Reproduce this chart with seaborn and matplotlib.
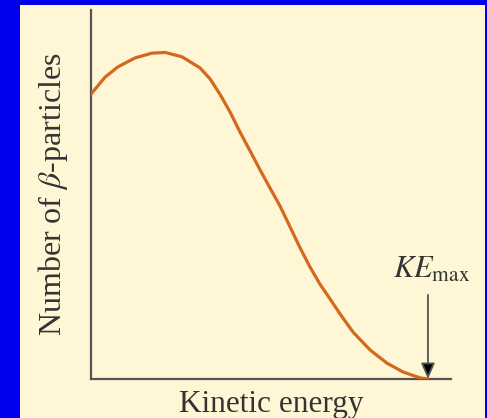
import matplotlib
matplotlib.use("Agg")
import matplotlib.pyplot as plt
import seaborn as sns
import pandas as pd
from matplotlib.patches import Rectangle

# Beta-decay energy spectrum (arbitrary units, 0-100 on both axes)
energy = [0.0, 3.9, 7.5, 12.2, 16.9, 20.6, 25.3, 30.3, 33.1, 35.8, 38.6, 41.4,
          44.2, 47.0, 49.7, 52.5, 55.3, 58.1, 60.8, 63.6, 66.4, 69.2, 72.8,
          77.5, 82.2, 86.7, 91.4, 93.6]
counts = [77.2, 81.8, 84.6, 87.0, 88.3, 88.5, 87.3, 84.3, 81.3, 77.2, 72.4, 66.9,
          61.8, 56.6, 51.8, 46.9, 41.2, 35.5, 30.4, 25.7, 21.7, 17.6, 12.7,
          7.9, 4.3, 1.9, 0.3, 0.0]
ke_max = 93.6
ke_arrow_top = 22.8

xlabel = "Kinetic energy"
ylabel = r"Number of $\beta$-particles"
ke_label = r"$\mathit{KE}_{\mathrm{max}}$"

sns.set_theme(style="white")
plt.rcParams["font.family"] = ["Liberation Serif", "DejaVu Serif"]
plt.rcParams["mathtext.fontset"] = "stix"

W, H = 487, 418
BLUE = "#0000EE"
CREAM = "#FFF6D5"
ORANGE = "#D2691E"
AXIS = "#555555"
TEXT = "#333333"

fig = plt.figure(figsize=(W / 100, H / 100), dpi=100, facecolor=BLUE)
fig.patches.append(Rectangle((20 / W, 0), 465 / W, 413 / H, transform=fig.transFigure,
                             facecolor=CREAM, edgecolor="none", zorder=-10))

ax = fig.add_axes([91 / W, (H - 379) / H, 360 / W, 369 / H])
ax.set_zorder(5)
ax.set_facecolor("none")

df = pd.DataFrame({"energy": energy, "counts": counts})
sns.lineplot(data=df, x="energy", y="counts", sort=False, color=ORANGE,
             linewidth=2.3, ax=ax, zorder=3)

ax.set_xlim(0, 100)
ax.set_ylim(0, 100)
ax.set_xticks([])
ax.set_yticks([])
for side in ("top", "right"):
    ax.spines[side].set_visible(False)
for side in ("left", "bottom"):
    ax.spines[side].set_color(AXIS)
    ax.spines[side].set_linewidth(1.6)

ax.set_xlabel(xlabel, fontsize=22.5, color=TEXT, labelpad=8)
ax.set_ylabel(ylabel, fontsize=23, color=TEXT, labelpad=15)

ax.annotate("", xy=(ke_max, 0), xytext=(ke_max, ke_arrow_top),
            arrowprops=dict(arrowstyle="-|>,head_length=0.8,head_width=0.35",
                            lw=1.3, shrinkA=0, shrinkB=0,
                            edgecolor=AXIS, facecolor="black"),
            zorder=4)
ax.text(ke_max + 1.0, ke_arrow_top + 2.6, ke_label, ha="center", va="bottom",
        fontsize=22, color=TEXT)

fig.savefig("out.png", dpi=100, facecolor=BLUE)
